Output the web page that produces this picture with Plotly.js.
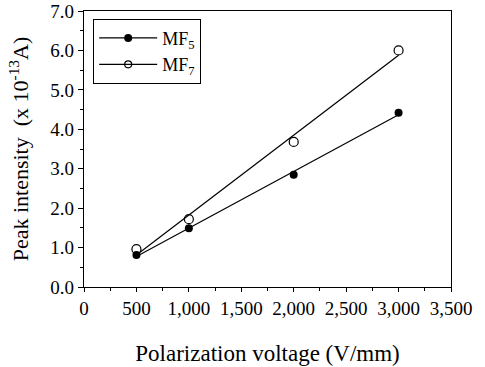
<!DOCTYPE html>
<html>
<head>
<meta charset="utf-8">
<script src="https://cdn.plot.ly/plotly-3.0.1.min.js"></script>
<style>html,body{margin:0;padding:0;background:#fff;}#chart{width:485px;height:367px;}</style>
</head>
<body>
<div id="chart"></div>
<script>
const voltage = [500, 1000, 2000, 3000];
const mf5 = [0.81, 1.49, 2.85, 4.42];
const mf7 = [0.96, 1.72, 3.68, 6.00];
const xTicks = [0, 500, 1000, 1500, 2000, 2500, 3000, 3500];
const yTicks = [0, 1, 2, 3, 4, 5, 6, 7];

function fit(xs, ys) {
  const n = xs.length;
  const mx = xs.reduce((a, b) => a + b, 0) / n;
  const my = ys.reduce((a, b) => a + b, 0) / n;
  let sxy = 0, sxx = 0;
  for (let i = 0; i < n; i++) { sxy += (xs[i] - mx) * (ys[i] - my); sxx += (xs[i] - mx) ** 2; }
  const m = sxy / sxx, b = my - m * mx;
  const xe = [xs[0], xs[n - 1]];
  return { x: xe, y: xe.map(v => m * v + b) };
}
const f5 = fit(voltage, mf5), f7 = fit(voltage, mf7);
const lineStyle = { color: 'black', width: 1.2 };
const fnt = { family: '"Liberation Serif", "Times New Roman", serif', color: 'black' };

const traces = [
  { x: f5.x, y: f5.y, mode: 'lines', line: lineStyle, showlegend: false, hoverinfo: 'skip' },
  { x: f7.x, y: f7.y, mode: 'lines', line: lineStyle, showlegend: false, hoverinfo: 'skip' },
  { x: voltage, y: mf5, mode: 'markers', showlegend: false,
    marker: { symbol: 'circle', size: 8, color: 'black' } },
  { x: voltage, y: mf7, mode: 'markers', showlegend: false,
    marker: { symbol: 'circle-open', size: 9, color: 'black', line: { width: 1.2 } } },
  { x: [null], y: [null], mode: 'lines+markers', name: 'MF<sub>5</sub>', line: lineStyle,
    marker: { symbol: 'circle', size: 8, color: 'black' } },
  { x: [null], y: [null], mode: 'lines+markers', name: 'MF<sub>7</sub>', line: lineStyle,
    marker: { symbol: 'circle-open', size: 7, color: 'black', line: { width: 1.2 } } }
];

const layout = {
  width: 485, height: 367,
  margin: { l: 84, r: 34, t: 11, b: 80 },
  paper_bgcolor: 'white', plot_bgcolor: 'white',
  font: Object.assign({ size: 18 }, fnt),
  showlegend: true,
  legend: {
    x: 0.025, y: 0.972, xanchor: 'left', yanchor: 'top',
    bordercolor: 'black', borderwidth: 1, bgcolor: 'white',
    font: Object.assign({ size: 18 }, fnt),
    tracegroupgap: 0, itemwidth: 58
  },
  xaxis: {
    range: [0, 3500], tickvals: xTicks, ticktext: xTicks.map(v => v.toLocaleString('en-US')),
    ticks: 'outside', ticklen: 4, tickwidth: 1, tickcolor: 'black',
    minor: { dtick: 250, ticks: 'outside', ticklen: 3, tickcolor: 'black' },
    showline: true, linecolor: 'black', linewidth: 1.2, mirror: true,
    showgrid: false, zeroline: false,
    tickfont: Object.assign({ size: 19 }, fnt),
    title: { text: 'Polarization voltage (V/mm)', font: Object.assign({ size: 23 }, fnt), standoff: 26 }
  },
  yaxis: {
    range: [0, 7], tickvals: yTicks, ticktext: yTicks.map(v => v.toFixed(1)),
    ticks: 'outside', ticklen: 5, tickwidth: 1, tickcolor: 'black',
    minor: { dtick: 0.5, ticks: 'outside', ticklen: 3, tickcolor: 'black' },
    showline: true, linecolor: 'black', linewidth: 1.2, mirror: true,
    showgrid: false, zeroline: false,
    tickfont: Object.assign({ size: 19 }, fnt),
    title: { text: 'Peak intensity  (x 10<sup>-13</sup>A)', font: Object.assign({ size: 22 }, fnt), standoff: 15 }
  }
};

Plotly.newPlot('chart', traces, layout, { displayModeBar: false, staticPlot: true });
</script>
</body>
</html>
